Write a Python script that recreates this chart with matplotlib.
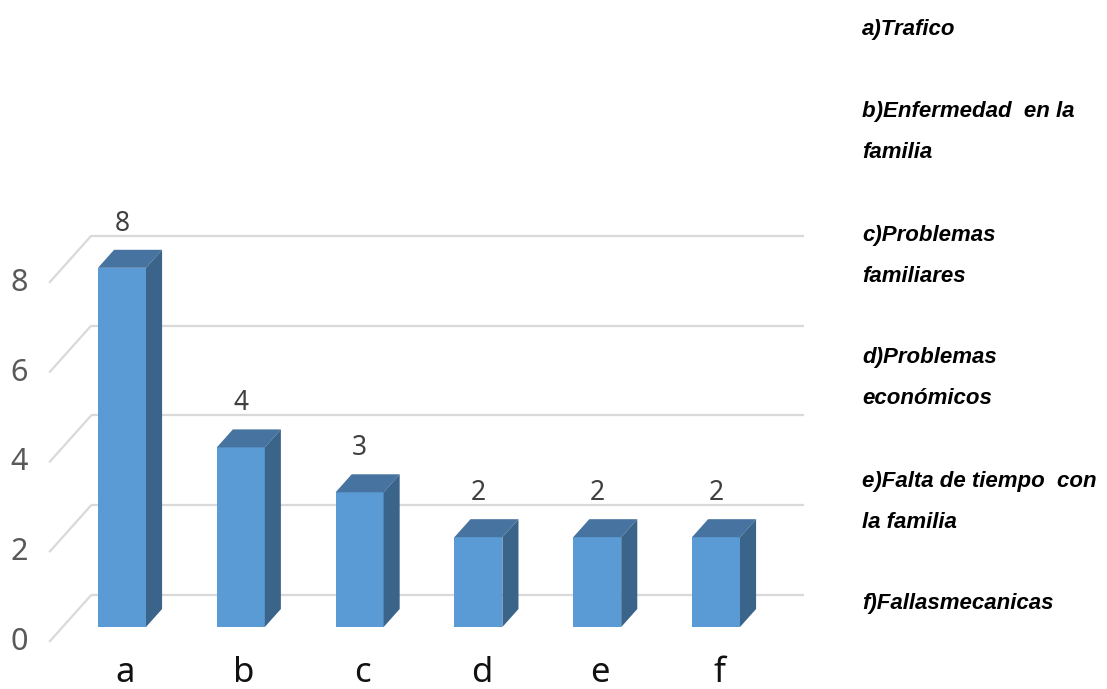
import matplotlib
matplotlib.use("Agg")
import matplotlib.pyplot as plt
from matplotlib.patches import Polygon

# Data
categories = ["a", "b", "c", "d", "e", "f"]
counts = [8, 4, 3, 2, 2, 2]
y_ticks = [0, 2, 4, 6, 8]
descriptions = [
    "a)Trafico",
    "b)Enfermedad  en la\nfamilia",
    "c)Problemas\nfamiliares",
    "d)Problemas\neconómicos",
    "e)Falta de tiempo  con\nla familia",
    "f)Fallasmecanicas",
]

NARROW = ["Liberation Sans Narrow", "DejaVu Sans Condensed",
          "Noto Sans", "DejaVu Sans"]

# Figure geometry (pixels)
W, H, DPI = 1107, 689, 100
PX_X = 118.8          # pixels per category step
PX_Y = 44.9           # pixels per value unit
X0_PX = 122.0         # centre of first bar
BASE_PX = 627.0       # baseline of the bar front plane (from top)

def dx(px):
    return px / PX_X

def dy(px):
    return px / PX_Y

fig = plt.figure(figsize=(W / DPI, H / DPI), dpi=DPI)
ax = fig.add_axes([0, 0, 1, 1])
ax.set_xlim(-X0_PX / PX_X, (W - X0_PX) / PX_X)
ax.set_ylim(-(H - BASE_PX) / PX_Y, BASE_PX / PX_Y)
ax.axis("off")

# oblique depth offsets (x, y) in data units
slope = 42.0 / 47.0
bar_depth = (dx(18 * slope), dy(18))
back_wall = (dx(32 * slope), dy(32))
front_edge = (dx(-15 * slope), dy(-15))

x_left, x_right = -0.5, len(categories) - 0.5
grid_color = "#d9d9d9"

# Back wall gridlines and the floor-side diagonals
for v in y_ticks:
    ax.plot([x_left + back_wall[0], x_right + back_wall[0]],
            [v + back_wall[1], v + back_wall[1]],
            color=grid_color, lw=1.6, solid_capstyle="butt", zorder=1)
    ax.plot([x_left + front_edge[0], x_left + back_wall[0]],
            [v + front_edge[1], v + back_wall[1]],
            color=grid_color, lw=1.6, solid_capstyle="butt", zorder=1)
    ax.text(x_left + front_edge[0] - dx(30), v + front_edge[1], str(v),
            ha="center", va="center", fontsize=22, color="#595959",
            family=NARROW, fontstretch="condensed", fontweight="light")

# Bars: front face plus top and side faces
front_color = "#5b9bd5"
top_color = "#4673a0"
side_color = "#3a6489"
half_w = dx(24)
xs = list(range(len(categories)))
ax.bar(xs, counts, width=2 * half_w, color=front_color, zorder=3,
       linewidth=0)
for x, v in zip(xs, counts):
    bx, by = bar_depth
    top = Polygon([(x - half_w, v), (x + half_w, v),
                   (x + half_w + bx, v + by), (x - half_w + bx, v + by)],
                  closed=True, facecolor=top_color, edgecolor="none", zorder=3)
    side = Polygon([(x + half_w, 0), (x + half_w + bx, by),
                    (x + half_w + bx, v + by), (x + half_w, v)],
                   closed=True, facecolor=side_color, edgecolor="none", zorder=3)
    ax.add_patch(top)
    ax.add_patch(side)
    ax.text(x, v + by + dy(12), str(v), ha="center", va="bottom",
            fontsize=19, color="#404040",
            family=NARROW, fontstretch="condensed", fontweight="light")

# Category labels under the floor
for x, name in zip(xs, categories):
    ax.text(x + dx(3), -dy(55), name, ha="center", va="baseline",
            fontsize=25, color="#111111",
            family=NARROW, fontstretch="condensed")

# Descriptions on the right
line_step = 41.0
y_px = 30.0
for desc in descriptions:
    for line in desc.split("\n"):
        fig.text(862 / W, 1 - y_px / H, line, ha="left", va="center",
                 fontsize=16, fontweight="bold", fontstyle="italic",
                 color="#000000", family=["Liberation Sans", "DejaVu Sans"])
        y_px += line_step
    y_px += line_step

fig.savefig("out.png", dpi=DPI)
